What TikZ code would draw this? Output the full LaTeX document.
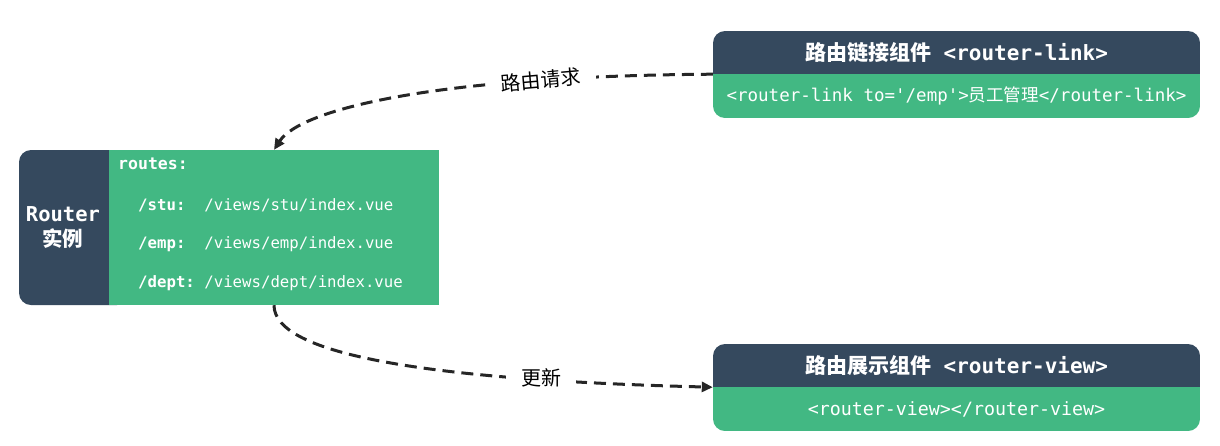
\documentclass[tikz,border=0pt]{standalone}
\usepackage{fontspec}
\setmainfont{Noto Sans}
\setmonofont{DejaVu Sans Mono}
\newfontfamily\cjk{Noto Sans CJK SC}
\usetikzlibrary{positioning,arrows.meta}

\definecolor{vuedark}{HTML}{35495E}
\definecolor{vuegreen}{HTML}{42B883}

\tikzset{
  headbox/.style={fill=vuedark, text=white, inner sep=0pt, minimum width=487pt, minimum height=43pt,
    font=\fontsize{21}{24}\selectfont\bfseries},
  bodybox/.style={fill=vuegreen, text=white, inner sep=0pt, minimum width=487pt, minimum height=44pt,
    font=\ttfamily\fontsize{17.5}{20}\selectfont},
  routeline/.style={anchor=west, text=white, inner sep=0pt, font=\ttfamily\fontsize{15.7}{18}\selectfont},
  flow/.style={line width=3pt, dash pattern=on 12pt off 7pt, draw=black!85, -{Triangle[length=11pt,width=10pt]}},
  flowlabel/.style={fill=white, inner xsep=15pt, font=\cjk\fontsize{20}{24}\selectfont}
}

\begin{document}
\begin{tikzpicture}[x=1pt,y=-1pt]
        \useasboundingbox (0,0) rectangle (1220,445);

        % Instance Router
        \node[fill=vuedark, rounded corners=12pt, minimum width=110pt, minimum height=155pt, inner sep=0pt] (routerbg) at (74,227.5) {};
        \node[fill=vuegreen, minimum width=330pt, minimum height=155pt, inner sep=0pt] (routes) at (274,227.5) {};
        \node[text=white, align=center, font=\fontsize{20.5}{25}\selectfont\bfseries] (router) at (63,227.5)
            {\ttfamily Router\\\cjk 实例};
        \node[routeline, font=\ttfamily\bfseries\fontsize{16.5}{18}\selectfont] (r0) at (118,164) {routes:};
        \node[routeline] (r1) at (138,205) {{\bfseries /stu:}\ \ /views/stu/index.vue};
        \node[routeline] (r2) at (138,244) {{\bfseries /emp:}\ \ /views/emp/index.vue};
        \node[routeline] (r3) at (138,283) {{\bfseries /dept:}\ /views/dept/index.vue};

        % Composant router-link
        \begin{scope}
            \clip[rounded corners=12pt] (713,31) rectangle (1200,118);
            \node[headbox] (linkhead) at (956.5,52.5) {{\cjk 路由链接组件}\ttfamily\ <router-link>};
            \node[bodybox, below=0pt of linkhead] (linkbody) {<router-link to='/emp'>{\cjk 员工管理}</router-link>};
        \end{scope}

        % Composant router-view
        \begin{scope}
            \clip[rounded corners=12pt] (713,344) rectangle (1200,431);
            \node[headbox] (viewhead) at (956.5,365.5) {{\cjk 路由展示组件}\ttfamily\ <router-view>};
            \node[bodybox, below=0pt of viewhead, font=\ttfamily\fontsize{18.3}{20}\selectfont] (viewbody) {<router-view></router-view>};
        \end{scope}

        % Fleches
        \draw[flow] (linkhead.south west) .. controls (430,76) and (300,110) .. (routes.north);
        \draw[flow] (routes.south) .. controls (274,355) and (430,380) .. (viewhead.south west);
        \node[flowlabel, rotate=5] (req) at (541,80) {路由请求};
        \node[flowlabel] (upd) at (541,378) {更新};
    \end{tikzpicture}
\end{document}
